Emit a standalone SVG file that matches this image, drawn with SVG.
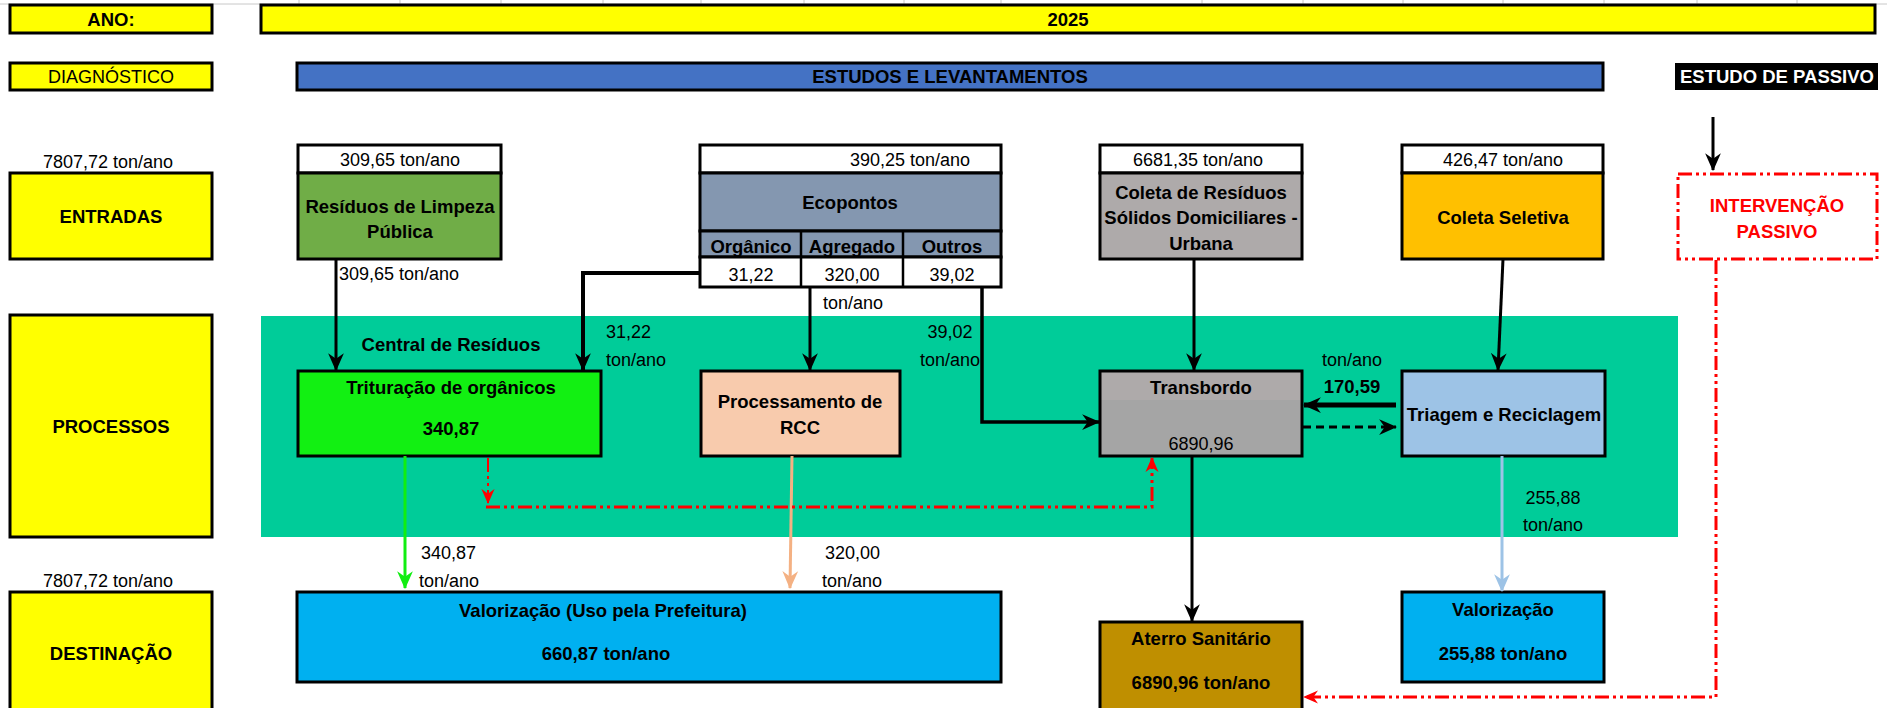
<svg xmlns="http://www.w3.org/2000/svg" width="1887" height="708" viewBox="0 0 1887 708">
<style>
text{font-family:"Liberation Sans",Arial,sans-serif;font-size:18px;fill:#000;text-anchor:middle}
.b{font-weight:bold;font-size:18.5px}
.l{text-anchor:start}
.e{text-anchor:end}
.box{stroke:#000;stroke-width:3}
.yel{fill:#FFFF00;stroke:#000;stroke-width:3}
.wh{fill:#fff;stroke:#000;stroke-width:3}
.cn{fill:none;stroke:#000;stroke-width:3}
.red{fill:none;stroke:#FF0000;stroke-width:3;stroke-dasharray:14,4,3,4,3,4}
.grid{stroke:#c8c8c8;stroke-width:1}
</style>
<defs>
<marker id="ak" markerUnits="userSpaceOnUse" markerWidth="18" markerHeight="18" viewBox="0 0 16 16" refX="15" refY="8" orient="auto"><path d="M0,1 L16,8 L0,15 L5,8 z" fill="#000"/></marker>
<marker id="ar" markerUnits="userSpaceOnUse" markerWidth="15" markerHeight="15" viewBox="0 0 16 16" refX="15" refY="8" orient="auto"><path d="M0,1 L16,8 L0,15 L5,8 z" fill="#FF0000"/></marker>
<marker id="ag" markerUnits="userSpaceOnUse" markerWidth="18" markerHeight="18" viewBox="0 0 16 16" refX="15" refY="8" orient="auto"><path d="M0,1 L16,8 L0,15 L5,8 z" fill="#11EE11"/></marker>
<marker id="ap" markerUnits="userSpaceOnUse" markerWidth="18" markerHeight="18" viewBox="0 0 16 16" refX="15" refY="8" orient="auto"><path d="M0,1 L16,8 L0,15 L5,8 z" fill="#F4B183"/></marker>
<marker id="ab" markerUnits="userSpaceOnUse" markerWidth="18" markerHeight="18" viewBox="0 0 16 16" refX="15" refY="8" orient="auto"><path d="M0,1 L16,8 L0,15 L5,8 z" fill="#9DC3E6"/></marker>
</defs>

<g id="gridlines">
<line class="grid" x1="0" y1="4" x2="1887" y2="4"/>
<path class="grid" d="M299,0V5M400,0V5M501,0V5M603,0V5M701,0V5M804,0V5M904,0V5M1001,0V5M1202,0V5M1303,0V5M1403,0V5M1503,0V5M1604,0V5M1697,0V5M1797,0V5"/>
</g>

<g id="ano"><rect class="yel" x="10" y="5" width="202" height="28"/><text class="b" x="111" y="26">ANO:</text></g>
<g id="ano-valor"><rect class="yel" x="261" y="5" width="1614" height="28"/><text class="b" x="1068" y="26">2025</text></g>

<g id="diagnostico"><rect class="yel" x="10" y="63" width="202" height="27"/><text x="111" y="83">DIAGNÓSTICO</text></g>
<g id="estudos"><rect class="box" fill="#4472C4" x="297" y="63" width="1306" height="27"/><text class="b" x="950" y="83">ESTUDOS E LEVANTAMENTOS</text></g>
<g id="estudo-passivo"><rect fill="#000" x="1675" y="63" width="203" height="27"/><text class="b" x="1777" y="83" style="fill:#fff">ESTUDO DE PASSIVO</text></g>

<g id="central-residuos"><rect fill="#00CC99" x="261" y="316" width="1417" height="221"/><text class="b" x="451" y="351">Central de Resíduos</text></g>

<g id="entradas"><text x="108" y="168">7807,72  ton/ano</text><rect class="yel" x="10" y="173" width="202" height="86"/><text class="b" x="111" y="223">ENTRADAS</text></g>

<g id="limpeza-publica">
<rect class="wh" x="298" y="145" width="203" height="28"/><text x="400" y="166">309,65  ton/ano</text>
<rect class="box" fill="#70AD47" x="298" y="173" width="203" height="86"/>
<text class="b" x="400" y="213">Resíduos de Limpeza</text><text class="b" x="400" y="238">Pública</text>
</g>

<g id="ecopontos">
<rect class="wh" x="700" y="145" width="301" height="28"/><text class="e" x="970" y="166">390,25  ton/ano</text>
<rect class="box" fill="#8497B0" x="700" y="173" width="301" height="58"/><text class="b" x="850" y="209">Ecopontos</text>
<rect class="box" fill="#8497B0" x="700" y="231" width="301" height="26"/>
<rect class="wh" x="700" y="257" width="301" height="30"/>
<line x1="801" y1="231" x2="801" y2="287" stroke="#000" stroke-width="2.5"/>
<line x1="903" y1="231" x2="903" y2="287" stroke="#000" stroke-width="2.5"/>
<text class="b" x="751" y="253">Orgânico</text><text class="b" x="852" y="253">Agregado</text><text class="b" x="952" y="253">Outros</text>
<text x="751" y="281">31,22</text><text x="852" y="281">320,00</text><text x="952" y="281">39,02</text>
</g>

<g id="coleta-rsu">
<rect class="wh" x="1100" y="145" width="202" height="28"/><text x="1198" y="166">6681,35  ton/ano</text>
<rect class="box" fill="#AEAAAA" x="1100" y="173" width="202" height="86"/>
<text class="b" x="1201" y="199">Coleta de Resíduos</text><text class="b" x="1201" y="224">Sólidos Domiciliares -</text><text class="b" x="1201" y="250">Urbana</text>
</g>

<g id="coleta-seletiva">
<rect class="wh" x="1402" y="145" width="201" height="28"/><text x="1503" y="166">426,47  ton/ano</text>
<rect class="box" fill="#FFC000" x="1402" y="173" width="201" height="86"/>
<text class="b" x="1503" y="224">Coleta Seletiva</text>
</g>

<g id="intervencao-passivo">
<rect class="red" style="fill:#fff" x="1678" y="174" width="199" height="85"/>
<text class="b" x="1777" y="212" style="fill:#FF0000">INTERVENÇÃO</text><text class="b" x="1777" y="238" style="fill:#FF0000">PASSIVO</text>
</g>

<g id="processos"><rect class="yel" x="10" y="315" width="202" height="222"/><text class="b" x="111" y="433">PROCESSOS</text></g>

<g id="trituracao">
<rect class="box" fill="#12F012" x="298" y="371" width="303" height="85"/>
<text class="b" x="451" y="394">Trituração de orgânicos</text><text class="b" x="451" y="435">340,87</text>
</g>

<g id="processamento-rcc">
<rect class="box" fill="#F8CBAD" x="701" y="371" width="199" height="85"/>
<text class="b" x="800" y="408">Processamento de</text><text class="b" x="800" y="434">RCC</text>
</g>

<g id="transbordo">
<rect fill="#A5A5A5" x="1100" y="371" width="202" height="85"/>
<rect fill="#AEAAAA" x="1100" y="371" width="202" height="29"/>
<rect fill="none" class="box" x="1100" y="371" width="202" height="85"/>
<text class="b" x="1201" y="394">Transbordo</text><text x="1201" y="450">6890,96</text>
</g>

<g id="triagem">
<rect class="box" fill="#9DC3E6" x="1402" y="371" width="203" height="85"/>
<text class="b" x="1504" y="421">Triagem e Reciclagem</text>
</g>

<g id="destinacao"><text x="108" y="587">7807,72  ton/ano</text><rect class="yel" x="10" y="592" width="202" height="130"/><text class="b" x="111" y="660">DESTINAÇÃO</text></g>

<g id="valorizacao-prefeitura">
<rect class="box" fill="#00B0F0" x="297" y="592" width="704" height="90"/>
<text class="b" x="603" y="617">Valorização (Uso pela Prefeitura)</text><text class="b" x="606" y="660">660,87  ton/ano</text>
</g>

<g id="aterro">
<rect class="box" fill="#BF8F00" x="1100" y="622" width="202" height="100"/>
<text class="b" x="1201" y="645">Aterro Sanitário</text><text class="b" x="1201" y="689">6890,96  ton/ano</text>
</g>

<g id="valorizacao">
<rect class="box" fill="#00B0F0" x="1402" y="592" width="202" height="90"/>
<text class="b" x="1503" y="616">Valorização</text><text class="b" x="1503" y="660">255,88  ton/ano</text>
</g>

<g id="connectors">
<path class="cn" d="M1713,117V170" marker-end="url(#ak)"/>
<path class="cn" d="M336,260V370" marker-end="url(#ak)"/>
<path class="cn" style="stroke-width:4" d="M700,273H583V370" marker-end="url(#ak)"/>
<path class="cn" d="M810,287V370" marker-end="url(#ak)"/>
<path class="cn" style="stroke-width:3.5" d="M982,287V422H1099" marker-end="url(#ak)"/>
<path class="cn" d="M1194,259V370" marker-end="url(#ak)"/>
<path class="cn" d="M1503,259L1498,370" marker-end="url(#ak)"/>
<path class="cn" style="stroke-width:5" d="M1396,405H1304" marker-end="url(#ak)"/>
<path class="cn" style="stroke-dasharray:8,5" d="M1303,427H1396" marker-end="url(#ak)"/>
<path class="cn" d="M1192,456V621" marker-end="url(#ak)"/>
<path class="cn" style="stroke:#11EE11" d="M405,456V588" marker-end="url(#ag)"/>
<path class="cn" style="stroke:#F4B183" d="M792,456L790,588" marker-end="url(#ap)"/>
<path class="cn" style="stroke:#9DC3E6" d="M1502,456V591" marker-end="url(#ab)"/>
<path class="red" style="stroke-width:2" d="M488,458V503" marker-end="url(#ar)"/>
<path class="red" d="M486,507H1152V458" marker-end="url(#ar)"/>
<path class="red" d="M1716,260V697H1304" marker-end="url(#ar)"/>
</g>

<g id="connector-labels">
<text class="l" x="339" y="280">309,65  ton/ano</text>
<text x="853" y="309">ton/ano</text>
<text class="l" x="606" y="338">31,22</text><text class="l" x="606" y="366">ton/ano</text>
<text x="950" y="338">39,02</text><text x="950" y="366">ton/ano</text>
<text x="1352" y="366">ton/ano</text><text class="b" x="1352" y="393">170,59</text>
<text x="1553" y="504">255,88</text><text x="1553" y="531">ton/ano</text>
<text class="l" x="421" y="559">340,87</text><text class="l" x="419" y="587">ton/ano</text>
<text class="l" x="825" y="559">320,00</text><text class="l" x="822" y="587">ton/ano</text>
</g>
</svg>
